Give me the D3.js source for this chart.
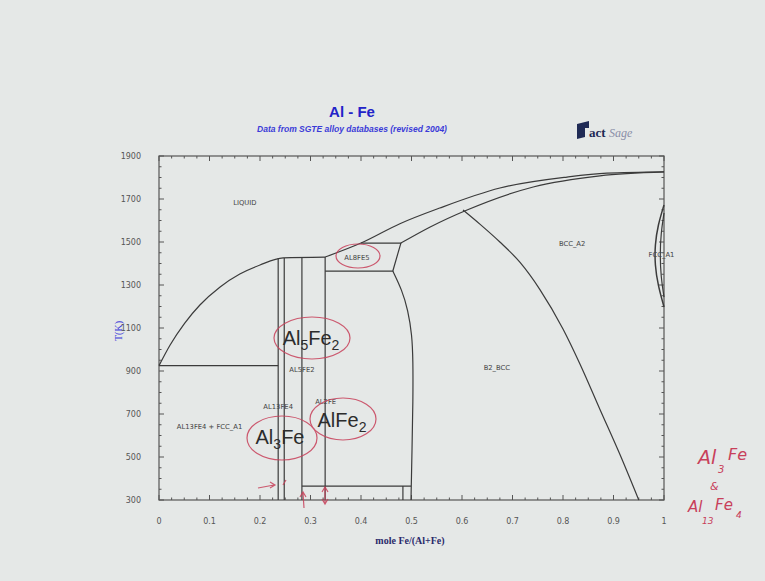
<!DOCTYPE html>
<html><head><meta charset="utf-8">
<script src="https://cdn.jsdelivr.net/npm/d3@7"></script>
<style>html,body{margin:0;padding:0;background:#e5e8e7;}svg{display:block;}</style>
</head><body>
<svg id="c" width="765" height="581"></svg>
<script>
// ---------- data (mole fraction Fe, T in K) ----------
const xTicks = [0,0.1,0.2,0.3,0.4,0.5,0.6,0.7,0.8,0.9,1];
const xTickLabels = ["0","0.1","0.2","0.3","0.4","0.5","0.6","0.7","0.8","0.9","1"];
const yTicks = [300,500,700,900,1100,1300,1500,1700,1900];
const liquidusAl = [[0,925],[0.022,1021],[0.051,1123],[0.081,1207],[0.121,1291],[0.16,1351],[0.2,1393],[0.246,1426],[0.329,1430]];
const liquidusFe = [[0.329,1430],[0.4,1495],[0.477,1585],[0.556,1658],[0.675,1751],[0.808,1802],[0.887,1820],[1,1826]];
const solidusBcc = [[0.479,1495],[0.537,1570],[0.61,1649],[0.741,1756],[0.873,1808],[1,1826]];
const b2Line = [[0.602,1649],[0.636,1582],[0.675,1500],[0.715,1405],[0.754,1280],[0.8,1095],[0.834,930],[0.873,722],[0.913,510],[0.95,300]];
const b2AlSide = [[0.463,1365],[0.481,1277],[0.493,1184],[0.501,1067],[0.503,951],[0.503,765],[0.501,533],[0.499,300]];
const al8fe5Box = [[0.4,1495],[0.479,1495],[0.463,1365],[0.329,1365]];
const gammaOuter = [[1,1672],[0.988,1579],[0.982,1486],[0.982,1393],[0.988,1300],[1,1198]];
const gammaInner = [[1,1635],[0.994,1542],[0.992,1440],[0.994,1337],[1,1244]];
const eutectic = [[0,925],[0.236,925]];
const compounds = [[0.236,1424,300],[0.248,1426,300],[0.283,1430,300],[0.329,1430,300]];
const lowT = [[0.283,365],[0.499,365]];
const lowTVert = [[0.483,365],[0.483,300]];
const phaseLabels = [
  ["LIQUID",0.17,1686],["AL8FE5",0.392,1430],["BCC_A2",0.818,1495],["FCC_A1",0.995,1440],
  ["AL5FE2",0.283,909],["B2_BCC",0.669,914],["AL13FE4",0.236,733],["AL13FE4 + FCC_A1",0.1,640],["AL2FE",0.33,758]
];

// ---------- layout ----------
const svg = d3.select("#c");
const x = d3.scaleLinear().domain([0,1]).range([159,664]);
const y = d3.scaleLinear().domain([300,1900]).range([500,156]);
const lineCol = "#3b3b3b";

svg.append("rect").attr("width",765).attr("height",581).attr("fill","#e5e8e7");

// frame
svg.append("rect").attr("x",x(0)).attr("y",y(1900)).attr("width",x(1)-x(0)).attr("height",y(300)-y(1900))
  .attr("fill","none").attr("stroke","#555").attr("stroke-width",1.2);

// ticks (inside, all four sides)
const g = svg.append("g");
const xMinor = d3.range(0,1.0001,0.025);
const yMinor = d3.range(300,1900.1,50);
xMinor.forEach(v=>{
  const major = xTicks.some(t=>Math.abs(t-v)<1e-6);
  const L = major?5:2.5;
  g.append("line").attr("x1",x(v)).attr("x2",x(v)).attr("y1",y(300)).attr("y2",y(300)-L).attr("stroke","#555");
  g.append("line").attr("x1",x(v)).attr("x2",x(v)).attr("y1",y(1900)).attr("y2",y(1900)+L).attr("stroke","#555");
});
yMinor.forEach(v=>{
  const major = yTicks.includes(Math.round(v));
  const L = major?5:2.5;
  g.append("line").attr("x1",x(0)).attr("x2",x(0)+L).attr("y1",y(v)).attr("y2",y(v)).attr("stroke","#555");
  g.append("line").attr("x1",x(1)).attr("x2",x(1)-L).attr("y1",y(v)).attr("y2",y(v)).attr("stroke","#555");
});
xTicks.forEach((t,i)=>{
  svg.append("text").attr("x",x(t)).attr("y",524).attr("text-anchor","middle")
    .attr("font-family","DejaVu Sans").attr("font-size",8).attr("fill","#555").text(xTickLabels[i]);
});
yTicks.forEach(t=>{
  svg.append("text").attr("x",141).attr("y",y(t)+3).attr("text-anchor","end")
    .attr("font-family","DejaVu Sans").attr("font-size",8).attr("fill","#555").text(t);
});

// phase boundaries
const lin = d3.line().x(d=>x(d[0])).y(d=>y(d[1]));
const mono = d3.line().x(d=>x(d[0])).y(d=>y(d[1])).curve(d3.curveMonotoneX);
const bas = d3.line().x(d=>x(d[0])).y(d=>y(d[1])).curve(d3.curveBasis);
const P = svg.append("g").attr("fill","none").attr("stroke",lineCol).attr("stroke-width",1.2);
P.append("path").attr("d",mono(liquidusAl));
P.append("path").attr("d",mono(liquidusFe));
P.append("path").attr("d",mono(solidusBcc));
P.append("path").attr("d",mono(b2Line));
P.append("path").attr("d",bas(b2AlSide));
P.append("path").attr("d",lin(al8fe5Box));
P.append("path").attr("d",bas(gammaOuter)).attr("stroke-width",1.5);
P.append("path").attr("d",bas(gammaInner));
P.append("path").attr("d",lin(eutectic));
compounds.forEach(c=>P.append("path").attr("d",lin([[c[0],c[1]],[c[0],c[2]]])));
P.append("path").attr("d",lin(lowT));
P.append("path").attr("d",lin(lowTVert));

// phase labels
phaseLabels.forEach(l=>{
  svg.append("text").attr("x",x(l[1])).attr("y",y(l[2])+2.5).attr("text-anchor","middle")
    .attr("font-family","DejaVu Sans").attr("font-size",6.8).attr("fill","#444").text(l[0]);
});

// titles
svg.append("text").attr("x",352).attr("y",117).attr("text-anchor","middle").attr("font-family","Liberation Sans")
  .attr("font-weight","bold").attr("font-size",15).attr("fill","#2323c8").text("Al - Fe");
svg.append("text").attr("x",352).attr("y",132).attr("text-anchor","middle").attr("font-family","Liberation Sans")
  .attr("font-weight","bold").attr("font-style","italic").attr("font-size",8.5).attr("fill","#3a3ad8")
  .text("Data from SGTE alloy databases (revised 2004)");
// FactSage logo
svg.append("path").attr("d","M577,124 L589,121 L589,128 L585,128 L585,137 L577,139 Z").attr("fill","#1f2a55");
svg.append("text").attr("x",589).attr("y",137).attr("font-family","Liberation Serif").attr("font-weight","bold")
  .attr("font-size",13).attr("fill","#1f2a55").text("act");
svg.append("text").attr("x",609).attr("y",137).attr("font-family","Liberation Serif").attr("font-style","italic")
  .attr("font-size",12).attr("fill","#8a8fa8").text("Sage");
// axis titles
svg.append("text").attr("transform","translate(122,331) rotate(-90)").attr("text-anchor","middle")
  .attr("font-family","Liberation Serif").attr("font-size",10).attr("fill","#3a3ad8").text("T(K)");
svg.append("text").attr("x",410).attr("y",544).attr("text-anchor","middle").attr("font-family","Liberation Serif")
  .attr("font-weight","bold").attr("font-size",10).attr("fill","#2b2b6b").text("mole Fe/(Al+Fe)");

// slide overlays: large formula text
function formula(cx,cy,parts){
  const t = svg.append("text").attr("x",cx).attr("y",cy).attr("text-anchor","middle")
    .attr("font-family","Liberation Sans").attr("font-size",20).attr("fill","#2c2c2c");
  parts.forEach(p=>{
    const s=t.append("tspan").text(p[0]);
    if(p[1]) s.attr("font-size",14).attr("dy",5); else s.attr("dy",p[2]||0);
  });
}
formula(311,345,[["Al"],["5",1],["Fe",0,-5],["2",1]]);
formula(280,444,[["Al"],["3",1],["Fe",0,-5]]);
formula(342,427,[["AlFe"],["2",1]]);

// red hand annotations
const red = "#c8405a";
const A = svg.append("g").attr("fill","none").attr("stroke",red).attr("stroke-width",1.2).attr("opacity",0.85);
A.append("ellipse").attr("cx",312).attr("cy",338).attr("rx",38).attr("ry",21);
A.append("ellipse").attr("cx",282).attr("cy",438).attr("rx",35).attr("ry",22);
A.append("ellipse").attr("cx",343).attr("cy",419).attr("rx",33).attr("ry",21);
A.append("ellipse").attr("cx",358).attr("cy",256).attr("rx",22).attr("ry",12);
A.append("path").attr("d","M258,488 L274,485 M270,482 L275,485 L270,488");
A.append("path").attr("d","M283,485 L286,480");
A.append("path").attr("d","M304,508 L303,493 M300,497 L303,492 L306,497");
A.append("path").attr("d","M325,503 L325,488 M322,492 L325,487 L328,492 M322,499 L325,504 L328,499");
const hw = svg.append("g").attr("fill",red).attr("font-family","DejaVu Sans").attr("font-style","italic");
hw.append("text").attr("x",698).attr("y",464).attr("font-size",19).text("Al");
hw.append("text").attr("x",718).attr("y",473).attr("font-size",10).text("3");
hw.append("text").attr("x",728).attr("y",460).attr("font-size",16).text("Fe");
hw.append("text").attr("x",710).attr("y",490).attr("font-size",11).text("&");
hw.append("text").attr("x",688).attr("y",512).attr("font-size",15).text("Al");
hw.append("text").attr("x",702).attr("y",524).attr("font-size",9).text("13");
hw.append("text").attr("x",715).attr("y",510).attr("font-size",15).text("Fe");
hw.append("text").attr("x",736).attr("y",518).attr("font-size",9).text("4");
</script>
</body></html>
